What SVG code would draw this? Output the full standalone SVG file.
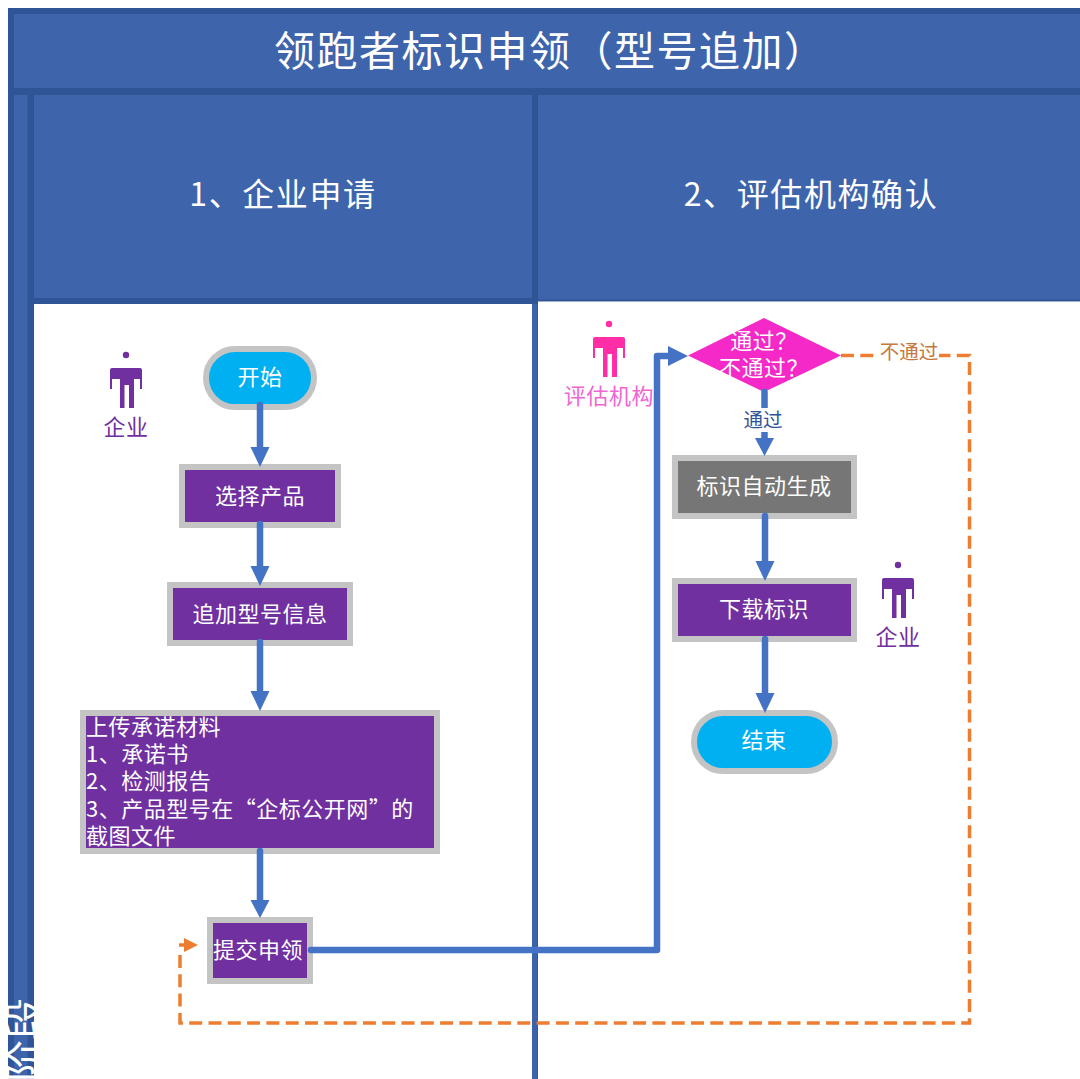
<svg xmlns="http://www.w3.org/2000/svg" width="1080" height="1079" viewBox="0 0 1080 1079">
<style>
text{font-family:"Noto Sans CJK SC","Noto Sans",sans-serif;fill:#fff;text-anchor:middle;dominant-baseline:central}
.band{fill:#3e64ac;stroke:#2f5597;stroke-width:6}
.box{fill:#7030a0;stroke:#c4c4c4;stroke-width:6}
.term{fill:#00b0f0;stroke:#c4c4c4;stroke-width:6}
.flow{fill:none;stroke:#4472c4;stroke-width:6.5;stroke-linecap:round;stroke-linejoin:round}
.head{fill:#4472c4}
.back{fill:none;stroke:#ed7d31;stroke-width:3.5;stroke-dasharray:13 6.300}
.t{font-size:22px;letter-spacing:.5px}
.l{font-size:22px;letter-spacing:.5px;text-anchor:start}
.h{font-size:32px;letter-spacing:1.600px}
</style>
<defs>
<clipPath id="stripe"><rect x="7" y="900" width="27" height="179"/></clipPath>
<symbol id="person" width="34" height="58" viewBox="0 0 34 58" overflow="visible">
<circle cx="17" cy="3" r="3.200"/>
<path d="M3 16H31Q33 16 33 18V37H31V27H25V56H20V33H15.500V56H11V27H3V37H1V18Q1 16 3 16Z"/>
</symbol>
</defs>
<rect width="1080" height="1079" fill="#fff"/>
<g id="frame">
<rect class="band" x="11" y="11" width="1075" height="1075"/>
<rect x="8" y="88" width="1072" height="7" fill="#2f5597"/>
<rect x="27.500" y="94" width="6.500" height="985" fill="#2f5597"/>
</g>
<g id="title"><text x="274" y="48" font-size="41" letter-spacing="1.500" style="text-anchor:start">领跑者标识申领（型号追加）</text></g>
<g id="lane-1">
<rect x="34" y="95" width="498" height="204" fill="#3e64ac"/>
<rect x="34" y="298" width="500" height="6" fill="#2f5597"/>
<rect x="34" y="304" width="498" height="775" fill="#fff"/>
<text class="h" x="283" y="192">1、企业申请</text>
</g>
<g id="lane-2">
<rect x="538" y="95" width="542" height="206" fill="#3e64ac"/>
<rect x="538" y="299.500" width="542" height="2" fill="#2f5597"/>
<rect x="538" y="301.500" width="542" height="778" fill="#fff"/>
<rect x="532" y="94" width="6" height="985" fill="#2f5597"/>
<rect x="532" y="304" width="5.500" height="775" fill="#3b62aa"/>
<text class="h" x="811" y="192">2、评估机构确认</text>
</g>
<g id="stage">
<g clip-path="url(#stripe)"><text transform="translate(21 1040) rotate(-90)" font-size="42">阶段</text></g>
</g>
<g id="actor-company-1" fill="#7030a0"><use href="#person" x="109" y="352"/><text x="126" y="425" font-size="22" letter-spacing=".5" style="fill:#7030a0">企业</text></g>
<g id="actor-agency" fill="#ff2ea6"><use href="#person" x="592" y="321"/><text x="609" y="394" font-size="22" letter-spacing=".5" style="fill:#f165d2">评估机构</text></g>
<g id="actor-company-2" fill="#7030a0"><use href="#person" x="881" y="562"/><text x="898" y="635" font-size="22" letter-spacing=".5" style="fill:#7030a0">企业</text></g>
<g id="start"><rect class="term" x="206" y="349" width="108" height="58" rx="29"/><text class="t" x="260" y="375">开始</text></g>
<g id="select"><rect class="box" x="182" y="467" width="156" height="58"/><text class="t" x="260" y="494">选择产品</text></g>
<g id="add"><rect class="box" x="170" y="585" width="180" height="58"/><text class="t" x="260" y="612">追加型号信息</text></g>
<g id="upload"><rect class="box" x="83" y="713" width="354" height="138"/>
<text class="l" x="86" y="725">上传承诺材料</text>
<text class="l" x="86" y="752">1、承诺书</text>
<text class="l" x="86" y="779">2、检测报告</text>
<text class="l" x="86" y="807">3、产品型号在“企标公开网”的</text>
<text class="l" x="86" y="834">截图文件</text></g>
<g id="submit"><rect class="box" x="210" y="920" width="100" height="61"/><text class="t" x="258" y="948">提交申领</text></g>
<g id="decision"><path d="M688 355.500L764 318L841 355.500L764 392Z" fill="#f528c8"/><text class="t" x="764" y="339">通过？</text><text class="t" x="764" y="366">不通过？</text></g>
<g id="generate"><rect x="675" y="458" width="179" height="58" fill="#767676" stroke="#c4c4c4" stroke-width="6"/><text class="t" x="764" y="484">标识自动生成</text></g>
<g id="download"><rect class="box" x="675" y="581" width="179" height="58"/><text class="t" x="764" y="607">下载标识</text></g>
<g id="end"><rect class="term" x="694" y="713" width="141" height="58" rx="29"/><text class="t" x="764" y="738">结束</text></g>
<g id="connectors">
<path class="flow" d="M260 405V449"/><path class="head" d="M250.500 447H269.500L260 467Z"/>
<path class="flow" d="M260 524V568"/><path class="head" d="M250.500 566H269.500L260 586Z"/>
<path class="flow" d="M260 642V693"/><path class="head" d="M250.500 691H269.500L260 711Z"/>
<path class="flow" d="M260 851V902"/><path class="head" d="M250.500 900H269.500L260 918Z"/>
<path class="flow" d="M311 950H657V356H670"/><path class="head" d="M668 346V366L688 356Z"/>
<path class="flow" d="M764.500 392V440"/><path class="head" d="M755 438H774L764.500 456Z"/>
<path class="flow" d="M765 516V563"/><path class="head" d="M755.500 561H774.500L765 581Z"/>
<path class="flow" d="M765 639V695"/><path class="head" d="M755.500 693H774.500L765 713Z"/>
<path class="back" d="M841 355.500H969.500V1023H180V951"/><path d="M179 945H186" fill="none" stroke="#ed7d31" stroke-width="3.500"/><path class="" d="M184 938V952L198 945Z" fill="#ed7d31"/>
</g>
<g id="label-pass"><rect x="743" y="408" width="40" height="24" fill="#fff"/><text x="763" y="418" font-size="19.500" style="fill:#2f5597">通过</text></g>
<g id="label-fail"><rect x="879" y="342" width="60" height="22" fill="#fff"/><text x="909" y="350" font-size="19.500" style="fill:#c5783b">不通过</text></g>
</svg>
